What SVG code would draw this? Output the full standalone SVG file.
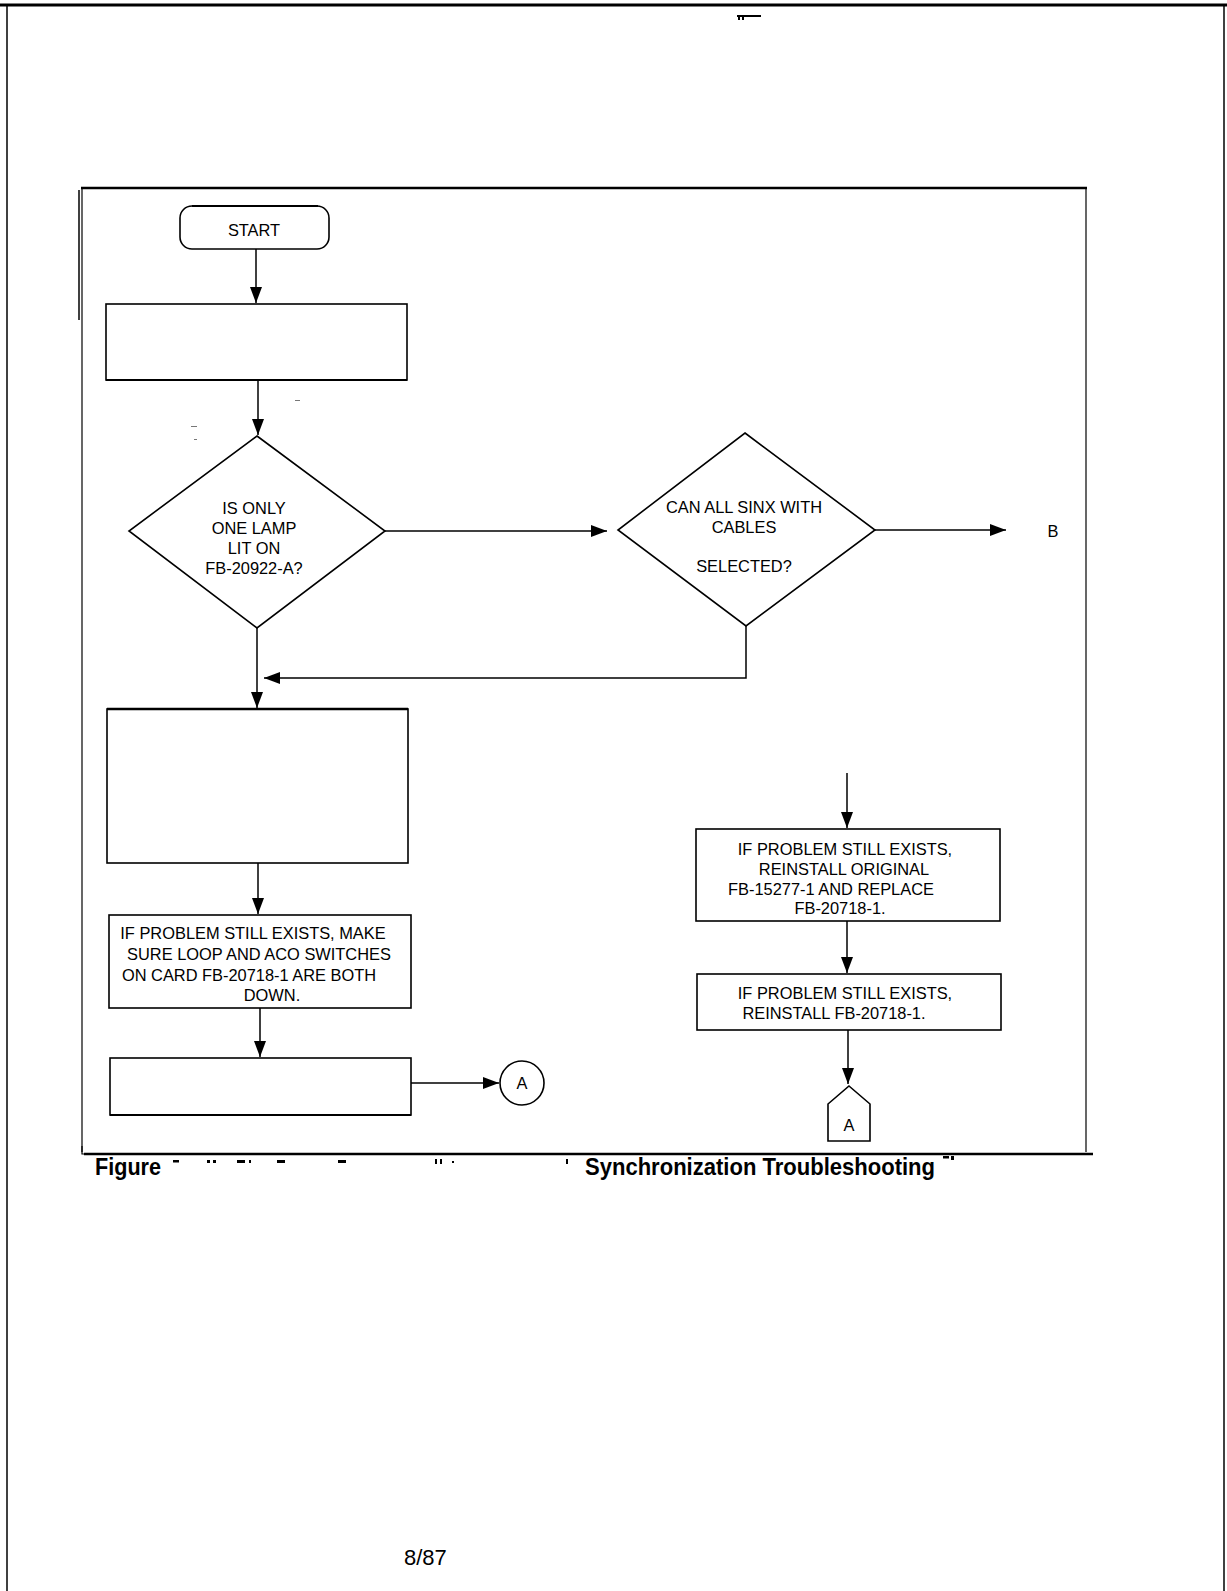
<svg xmlns="http://www.w3.org/2000/svg" width="1227" height="1591" viewBox="0 0 1227 1591">
<defs>
<style>
.pg{stroke:#000;fill:none}
.nd{fill:#fff;stroke:#000;stroke-width:1.6}
.cn{stroke:#000;stroke-width:1.5;fill:none}
.t{font-family:"Liberation Sans",Arial,Helvetica,sans-serif;font-size:16.4px;fill:#000;text-anchor:middle}
.cap{font-family:"Liberation Sans",Arial,Helvetica,sans-serif;font-size:24px;font-weight:bold;fill:#000}
.sp{fill:#000}
.spk{fill:#777}
</style>
<marker id="ah" markerUnits="userSpaceOnUse" markerWidth="16" markerHeight="12" refX="16" refY="6" orient="auto">
<path d="M0,0 L16,6 L0,12 z" fill="#000"/>
</marker>
</defs>
<rect x="0" y="0" width="1227" height="1591" fill="#fff"/>
<g id="page">
<line class="pg" x1="0" y1="5" x2="1227" y2="5" stroke-width="3"/>
<line class="pg" x1="7" y1="5" x2="7" y2="1591" stroke-width="1.5"/>
<line class="pg" x1="1224" y1="5" x2="1224" y2="1591" stroke-width="1.5"/>
<rect class="sp" x="737" y="15" width="24" height="2"/>
<rect class="sp" x="738" y="15" width="2" height="5"/>
<rect class="sp" x="742" y="15" width="2" height="5"/>
</g>
<g id="specks">
<rect class="spk" x="191" y="426" width="6" height="1"/>
<rect class="spk" x="194" y="439" width="3" height="1"/>
<rect class="spk" x="215" y="471" width="3" height="1.5"/>
<rect class="spk" x="295" y="400" width="5" height="1"/>
<rect class="spk" x="289" y="507" width="4" height="1.5"/>
<rect class="spk" x="304" y="507" width="3" height="1.5"/>
</g>
<g id="frame">
<line class="pg" x1="81" y1="188" x2="1087" y2="188" stroke-width="2.5"/>
<line class="pg" x1="82" y1="188" x2="82" y2="1152" stroke-width="1.2"/>
<line class="pg" x1="79" y1="190" x2="79" y2="320" stroke-width="1.5"/>
<line class="pg" x1="1086" y1="188" x2="1086" y2="1152" stroke-width="1.2"/>
<line class="pg" x1="84" y1="1154" x2="1093" y2="1154" stroke-width="2.5"/>
<path class="pg" d="M82,1146 V1154 H86" stroke-width="1.2"/>
</g>
<g id="start">
<rect class="nd" x="180" y="206" width="149" height="43" rx="12"/>
<line class="pg" x1="192" y1="206" x2="318" y2="206" stroke-width="2.2"/>
<text class="t" x="254" y="236" font-size="15.5">START</text>
</g>
<g id="box1">
<rect class="nd" x="106" y="304" width="301" height="76"/>
<line class="pg" x1="106" y1="380" x2="407" y2="380" stroke-width="2.2"/>
</g>
<g id="decision1">
<polygon class="nd" points="257,436 385,531 257,628 129,531"/>
<text class="t" x="254" y="514">IS ONLY</text>
<text class="t" x="254" y="534">ONE LAMP</text>
<text class="t" x="254" y="554">LIT ON</text>
<text class="t" x="254" y="574">FB-20922-A?</text>
</g>
<g id="decision2">
<polygon class="nd" points="745,433 875,530 746,626 618,530"/>
<text class="t" x="744" y="513">CAN ALL SINX WITH</text>
<text class="t" x="744" y="533">CABLES</text>
<text class="t" x="744" y="572">SELECTED?</text>
</g>
<g id="labelB">
<text class="t" x="1053" y="537" font-size="14.5">B</text>
</g>
<g id="box2">
<rect class="nd" x="107" y="709" width="301" height="154"/>
<line class="pg" x1="107" y1="709" x2="408" y2="709" stroke-width="2.4"/>
</g>
<g id="box3">
<rect class="nd" x="109" y="915" width="302" height="93"/>
<text class="t" x="253" y="939" font-size="16.8">IF PROBLEM STILL EXISTS, MAKE</text>
<text class="t" x="259" y="960" font-size="16.8">SURE LOOP AND ACO SWITCHES</text>
<text class="t" x="249" y="981" font-size="16.8">ON CARD FB-20718-1 ARE BOTH</text>
<text class="t" x="272" y="1001" font-size="16.8">DOWN.</text>
</g>
<g id="box4">
<rect class="nd" x="110" y="1058" width="301" height="57"/>
<line class="pg" x1="110" y1="1115" x2="411" y2="1115" stroke-width="2.2"/>
</g>
<g id="connA1">
<circle class="nd" cx="522" cy="1083" r="22" stroke-width="1.3"/>
<text class="t" x="522" y="1089" font-size="14.5">A</text>
</g>
<g id="box5">
<rect class="nd" x="696" y="829" width="304" height="92"/>
<text class="t" x="845" y="855">IF PROBLEM STILL EXISTS,</text>
<text class="t" x="844" y="875">REINSTALL ORIGINAL</text>
<text class="t" x="831" y="895">FB-15277-1 AND REPLACE</text>
<text class="t" x="840" y="914">FB-20718-1.</text>
</g>
<g id="box6">
<rect class="nd" x="697" y="974" width="304" height="56"/>
<text class="t" x="845" y="999">IF PROBLEM STILL EXISTS,</text>
<text class="t" x="834" y="1019">REINSTALL FB-20718-1.</text>
</g>
<g id="connA2">
<polygon class="nd" points="849,1086 870,1104 870,1141 828,1141 828,1104" stroke-width="1.3"/>
<text class="t" x="849" y="1131" font-size="14.5">A</text>
</g>
<g id="connectors">
<line class="cn" x1="256" y1="249" x2="256" y2="303" marker-end="url(#ah)"/>
<line class="cn" x1="258" y1="380" x2="258" y2="435" marker-end="url(#ah)"/>
<line class="cn" x1="385" y1="531" x2="607" y2="531" stroke-width="2" marker-end="url(#ah)"/>
<line class="cn" x1="875" y1="530" x2="1006" y2="530" stroke-width="2" marker-end="url(#ah)"/>
<path class="cn" d="M746,626 V678 H264" marker-end="url(#ah)"/>
<line class="cn" x1="257" y1="628" x2="257" y2="708" marker-end="url(#ah)"/>
<line class="cn" x1="258" y1="863" x2="258" y2="914" marker-end="url(#ah)"/>
<line class="cn" x1="260" y1="1008" x2="260" y2="1057" marker-end="url(#ah)"/>
<line class="cn" x1="411" y1="1083" x2="499" y2="1083" marker-end="url(#ah)"/>
<line class="cn" x1="847" y1="773" x2="847" y2="828" marker-end="url(#ah)"/>
<line class="cn" x1="847" y1="921" x2="847" y2="973" marker-end="url(#ah)"/>
<line class="cn" x1="848" y1="1030" x2="848" y2="1084" marker-end="url(#ah)"/>
</g>
<g id="caption">
<text class="cap" x="95" y="1175" textLength="66" lengthAdjust="spacingAndGlyphs">Figure</text>
<rect class="sp" x="173" y="1160" width="6" height="2.5"/>
<rect class="sp" x="207" y="1160" width="3" height="3"/>
<rect class="sp" x="213" y="1160" width="3" height="3"/>
<rect class="sp" x="237" y="1160" width="8" height="3"/>
<rect class="sp" x="249" y="1160" width="2" height="3"/>
<rect class="sp" x="277" y="1160" width="8" height="3"/>
<rect class="sp" x="338" y="1160" width="8" height="3"/>
<rect class="sp" x="435" y="1159" width="2" height="5"/>
<rect class="sp" x="440" y="1159" width="2" height="5"/>
<rect class="sp" x="452" y="1161" width="2" height="2"/>
<rect class="sp" x="566" y="1159" width="2" height="5"/>
<text class="cap" x="585" y="1175" textLength="350" lengthAdjust="spacingAndGlyphs">Synchronization Troubleshooting</text>
<rect class="sp" x="943" y="1156" width="6" height="2.5"/>
<rect class="sp" x="951" y="1156" width="3" height="4"/>
</g>
<g id="footer">
<text x="404" y="1565" font-family="Liberation Sans, Arial, sans-serif" font-size="22" fill="#000">8/87</text>
</g>
</svg>
